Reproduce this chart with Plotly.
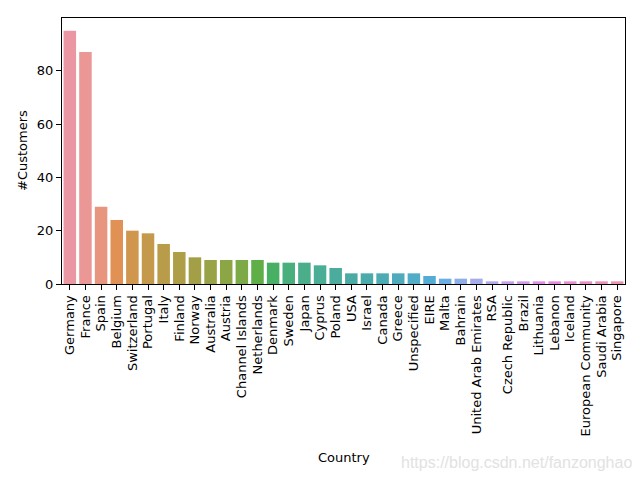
import math
import colorsys
import numpy as np
import plotly.graph_objects as go

countries = ["Germany", "France", "Spain", "Belgium", "Switzerland", "Portugal", "Italy",
             "Finland", "Norway", "Australia", "Austria", "Channel Islands", "Netherlands",
             "Denmark", "Sweden", "Japan", "Cyprus", "Poland", "USA", "Israel", "Canada",
             "Greece", "Unspecified", "EIRE", "Malta", "Bahrain", "United Arab Emirates",
             "RSA", "Czech Republic", "Brazil", "Lithuania", "Lebanon", "Iceland",
             "European Community", "Saudi Arabia", "Singapore"]
customers = [95, 87, 29, 24, 20, 19, 15, 12, 10, 9, 9, 9, 9, 8, 8, 8, 7, 6, 4, 4, 4,
             4, 4, 3, 2, 2, 2, 1, 1, 1, 1, 1, 1, 1, 1, 1]
y_ticks = [0, 20, 40, 60, 80]

# --- seaborn-like husl palette (l=.7, desaturated 0.75) ---
M = [[3.2406, -1.5372, -0.4986], [-0.9689, 1.8758, 0.0415], [0.0557, -0.2040, 1.0570]]
refU, refV = 0.19784, 0.46834


def max_chroma(L, H):
    hrad = math.radians(H)
    sinH, cosH = math.sin(hrad), math.cos(hrad)
    sub1 = (L + 16) ** 3 / 1560896.0
    sub2 = sub1 if sub1 > 0.008856 else L / 903.3
    result = float("inf")
    for m1, m2, m3 in M:
        top = (0.99915 * m1 + 1.05122 * m2 + 1.14460 * m3) * sub2
        rb = 0.86330 * m3 - 0.17266 * m2
        lb = 0.12949 * m3 - 0.38848 * m1
        bottom = (rb * sinH + lb * cosH) * sub2
        for t in (0.0, 1.0):
            C = L * (top - 1.05122 * t) / (bottom + 0.17266 * sinH * t)
            if 0.0 < C < result:
                result = C
    return result


def husl_to_rgb(H, S, L):
    C = max_chroma(L, H) / 100.0 * S
    hr = math.radians(H)
    U, V = math.cos(hr) * C, math.sin(hr) * C
    t = (L + 16.0) / 116.0
    Y = t ** 3 if t ** 3 > 0.008856 else (116.0 * t - 16.0) / 903.3
    vu = U / (13.0 * L) + refU
    vv = V / (13.0 * L) + refV
    X = -(9.0 * Y * vu) / ((vu - 4.0) * vv - vu * vv)
    Z = (9.0 * Y - 15.0 * vv * Y - vv * X) / (3.0 * vv)
    out = []
    for row in M:
        c = row[0] * X + row[1] * Y + row[2] * Z
        c = 12.92 * c if c <= 0.0031308 else 1.055 * c ** (1 / 2.4) - 0.055
        out.append(min(max(c, 0.0), 1.0))
    return out


n = len(countries)
hues = (np.linspace(0, 1, n + 1)[:-1] + 0.01) % 1 * 359
colors = []
for h in hues:
    r, g, b = husl_to_rgb(h, 0.9 * 99, 0.7 * 99)
    hh, ll, ss = colorsys.rgb_to_hls(r, g, b)
    r, g, b = colorsys.hls_to_rgb(hh, ll, ss * 0.75)
    colors.append("rgb(%d,%d,%d)" % (round(r * 255), round(g * 255), round(b * 255)))

fig = go.Figure(go.Bar(x=list(range(n)), y=customers, marker=dict(color=colors, line=dict(width=0)),
                       width=0.8))

font = "DejaVu Sans"
fig.update_layout(
    width=640, height=480,
    margin=dict(l=54, r=23, t=10, b=204),
    paper_bgcolor="white", plot_bgcolor="white",
    showlegend=False,
    font=dict(family=font, size=13, color="black"),
    xaxis=dict(range=[-0.5, n - 0.5], tickmode="array", tickvals=list(range(n)), ticktext=countries,
               tickangle=-90, ticks="outside", ticklen=5, tickcolor="black", showline=True,
               linecolor="black", linewidth=1, mirror=True, showgrid=False, zeroline=False,
               tickfont=dict(family=font, size=13)),
    yaxis=dict(range=[0, 99.75], tickvals=y_ticks, ticks="outside", ticklen=5, tickcolor="black",
               showline=True, linecolor="black", linewidth=1, mirror=True, showgrid=False,
               zeroline=False, tickfont=dict(family=font, size=13)),
    annotations=[
        dict(text="Country", xref="paper", yref="paper", x=0.5, y=(284 - 457) / 266,
             xanchor="center", yanchor="middle", showarrow=False, font=dict(family=font, size=13)),
        dict(text="#Customers", xref="paper", yref="paper", x=(22 - 62) / 563, y=0.5, textangle=-90,
             xanchor="center", yanchor="middle", showarrow=False, font=dict(family=font, size=13)),
        dict(text="https://blog.csdn.net/fanzonghao", xref="paper", yref="paper",
             x=(516 - 62) / 563, y=(284 - 462) / 266, xanchor="center", yanchor="middle",
             showarrow=False, font=dict(family="Liberation Sans", size=16, color="rgb(226,226,226)")),
    ],
)

fig.write_html("out.html")
